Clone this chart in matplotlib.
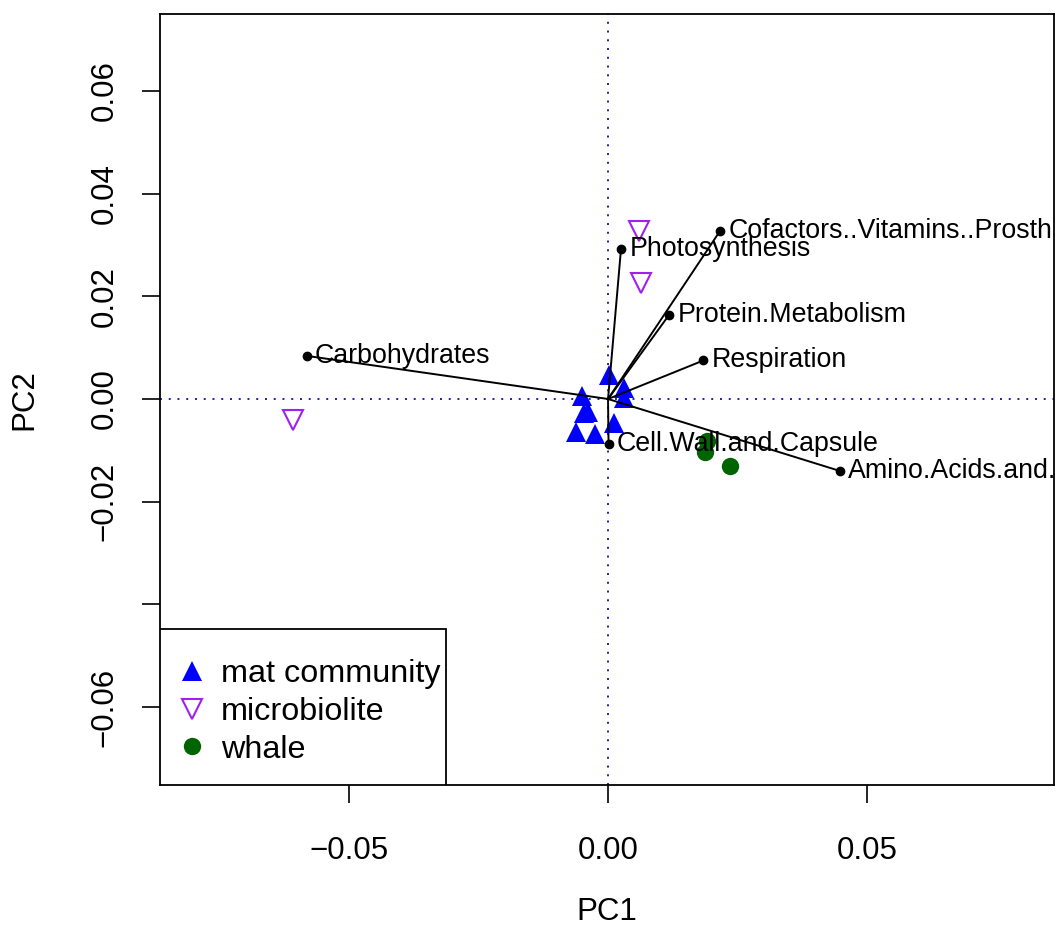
import matplotlib
matplotlib.use("Agg")
import matplotlib.pyplot as plt
from matplotlib.lines import Line2D
from matplotlib.patches import Rectangle

plt.rcParams['font.family'] = ['Liberation Sans', 'DejaVu Sans']

# --- data ---
mat_pc1 = [0.0001, 0.0030, 0.0031, -0.0051, -0.0038, -0.0046, 0.0012, -0.0062, -0.0026]
mat_pc2 = [0.0046, 0.0021, 0.0001, 0.0006, -0.0025, -0.0028, -0.0046, -0.0065, -0.0068]
micro_pc1 = [0.0060, 0.0064, -0.0609]
micro_pc2 = [0.0328, 0.0225, -0.0040]
whale_pc1 = [0.0191, 0.0187, 0.0236]
whale_pc2 = [-0.0081, -0.0104, -0.0131]

load_names = ["Carbohydrates", "Photosynthesis",
              "Cofactors..Vitamins..Prosth",
              "Protein.Metabolism", "Respiration", "Cell.Wall.and.Capsule",
              "Amino.Acids.and."]
load_pc1 = [-0.0582, 0.0025, 0.0216, 0.0118, 0.0184, 0.0001, 0.0447]
load_pc2 = [0.0084, 0.0292, 0.0327, 0.0164, 0.0075, -0.0088, -0.0140]

group_names = ["mat community", "microbiolite", "whale"]

xticks = [-0.05, 0.00, 0.05]
xtick_labels = ["\u22120.05", "0.00", "0.05"]
yticks = [-0.06, -0.04, -0.02, 0.00, 0.02, 0.04, 0.06]
ytick_labels = ["\u22120.06", "", "\u22120.02", "0.00", "0.02", "0.04", "0.06"]

fig = plt.figure(figsize=(10.56, 9.39), dpi=100)
ax = fig.add_axes([160/1056, 1-785/939, (1054-160)/1056, (785-14)/939])
ax.set_xlim(-0.0865, 0.0861)
ax.set_ylim(-0.0752, 0.0750)

# reference lines
ax.axvline(0, color='#1f1fb0', linestyle=(0, (1, 3.5)), linewidth=1.4, zorder=1)
ax.axhline(0, color='#1f1fb0', linestyle=(0, (1, 3.5)), linewidth=1.4, zorder=1)

# points
ax.plot(mat_pc1, mat_pc2, linestyle='none', marker='^', markersize=14,
        color='blue', markeredgewidth=0, zorder=2)
ax.plot(micro_pc1, micro_pc2, linestyle='none', marker='v', markersize=14,
        markerfacecolor='none', markeredgecolor='#A020F0', markeredgewidth=1.5, zorder=2)
ax.plot(whale_pc1, whale_pc2, linestyle='none', marker='o', markersize=12.5,
        color='#006400', markeredgewidth=0, zorder=2)

# loadings
for name, x, y in zip(load_names, load_pc1, load_pc2):
    ax.plot([0, x], [0, y], color='black', linewidth=1.4, zorder=3)
    ax.plot([x], [y], marker='o', markersize=6, color='black', zorder=4)
    ax.annotate(name, (x, y), xytext=(6, 0), textcoords='offset points',
                ha='left', va='center', fontsize=19.3, color='black',
                annotation_clip=False, clip_on=True, zorder=5)

ax.set_xticks(xticks)
ax.set_xticklabels(xtick_labels)
ax.set_yticks(yticks)
ax.set_yticklabels(ytick_labels, rotation=90, va='center')
ax.tick_params(axis='both', direction='out', length=13, width=1.2,
               labelsize=22.5, color='black')
ax.tick_params(axis='x', pad=24)
ax.tick_params(axis='y', pad=16)
for s in ax.spines.values():
    s.set_linewidth(1.3)

ax.set_xlabel("PC1", fontsize=22.5, labelpad=22)
ax.set_ylabel("PC2", fontsize=22.5, labelpad=36)

# legend box
box = Rectangle((0, 0), (446-160)/894, (785-629)/771, transform=ax.transAxes,
                facecolor='white', edgecolor='black', linewidth=1.3, zorder=9)
ax.add_patch(box)

handles = [
    Line2D([], [], linestyle='none', marker='^', markersize=14, color='blue', markeredgewidth=0),
    Line2D([], [], linestyle='none', marker='v', markersize=14, markerfacecolor='none',
           markeredgecolor='#A020F0', markeredgewidth=1.5),
    Line2D([], [], linestyle='none', marker='o', markersize=12.5, color='#006400', markeredgewidth=0),
]
leg = ax.legend(handles, group_names,
                loc='lower left', borderaxespad=0, frameon=False, fontsize=23.3,
                borderpad=0.63, handlelength=0.72, handletextpad=0.53,
                labelspacing=0.24)
leg.set_zorder(10)

fig.savefig("out.png", dpi=100)
